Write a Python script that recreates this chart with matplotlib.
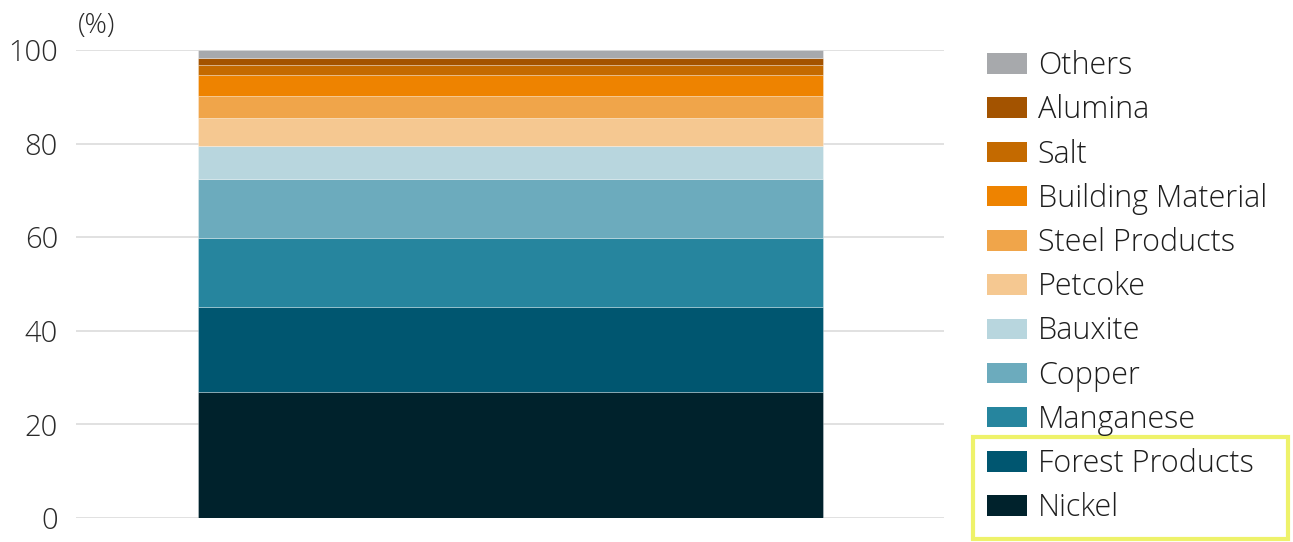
import matplotlib
matplotlib.use("Agg")
import matplotlib.pyplot as plt
from matplotlib.patches import Patch, Rectangle

plt.rcParams["font.family"] = ["Open Sans", "DejaVu Sans"]
plt.rcParams["font.weight"] = "light"

# cargo mix, bottom to top (%)
categories = ["Nickel", "Forest Products", "Manganese", "Copper", "Bauxite",
              "Petcoke", "Steel Products", "Building Material", "Salt",
              "Alumina", "Others"]
shares = [27.0, 18.1, 14.7, 12.6, 7.1, 6.0, 4.7, 4.5, 2.1, 1.5, 1.7]
colors = ["#00222c", "#005670", "#26859e", "#6cabbd", "#b8d6de",
          "#f5c891", "#f0a54a", "#ee8300", "#c46a00", "#a35300", "#a7a9ac"]
yticks = [0, 20, 40, 60, 80, 100]

fig = plt.figure(figsize=(12.93, 5.42), dpi=100)
ax = fig.add_axes([0.0588, 0.0443, 0.6713, 0.8634])

bottom = 0.0
for name, val, c in zip(categories, shares, colors):
    ax.bar(0, val, width=0.72, bottom=bottom, color=c,
           edgecolor=(1, 1, 1, 0.35), linewidth=0.6, zorder=3)
    bottom += val

ax.set_xlim(-0.5, 0.5)
ax.set_ylim(0, 100)
ax.set_xticks([])
ax.set_yticks(yticks)
ax.set_yticklabels([str(v) for v in yticks], fontsize=21, color="#2a2a2a")
ax.tick_params(axis="y", length=0, pad=13)
ax.grid(axis="y", color="#dcdcdc", lw=1.2, zorder=0)
for s in ax.spines.values():
    s.set_visible(False)

fig.text(0.0603, 0.952, "(%)", fontsize=20, color="#2a2a2a", va="center")

handles = [Patch(facecolor=c, edgecolor="none") for c in colors[::-1]]
fig.legend(handles, categories[::-1], loc="upper left",
           bbox_to_anchor=(0.754, 0.93), frameon=False, fontsize=22,
           handlelength=1.3, handleheight=0.65, handletextpad=0.36,
           labelspacing=0.40, borderaxespad=0, labelcolor="#1e1e1e")

# highlight box around the two largest categories
fig.add_artist(Rectangle((973 / 1293, 1 - 539 / 542), 315 / 1293, 102 / 542,
                         transform=fig.transFigure, fill=False,
                         edgecolor="#eef26a", linewidth=3))

fig.savefig("out.png", dpi=100)
